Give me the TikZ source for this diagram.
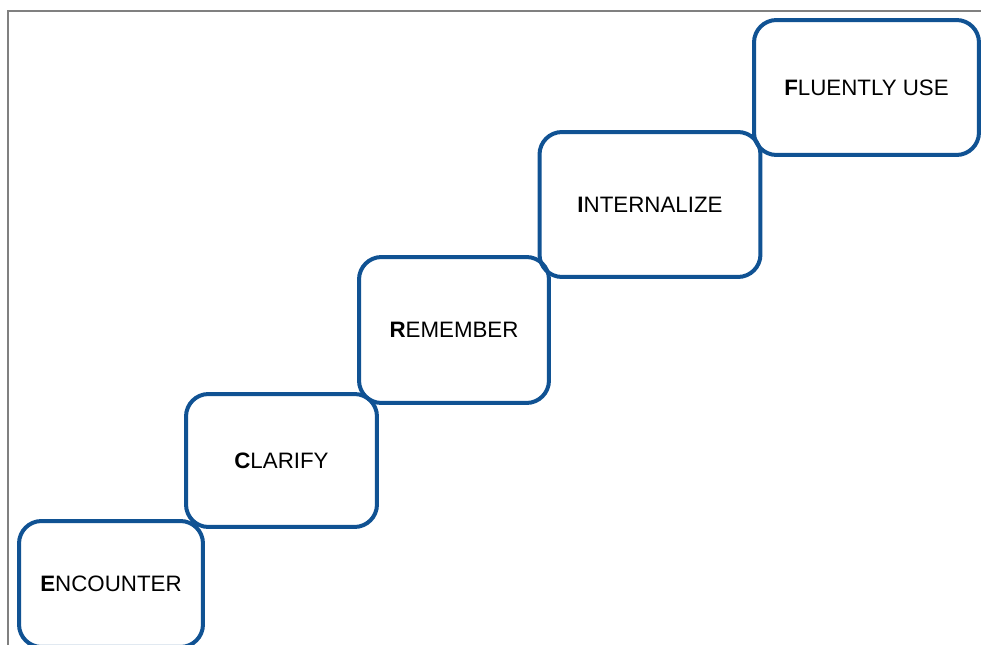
\documentclass[tikz,border=0pt]{standalone}
\usepackage{fontspec}
\setmainfont{Liberation Sans}
\definecolor{stepblue}{RGB}{16,82,147}
\begin{document}
\begin{tikzpicture}[x=0.02cm, y=-0.02cm,
  stepbox/.style={draw=stepblue, line width=0.08cm, rounded corners=0.45cm,
    inner sep=0pt, font=\fontsize{12.7}{15}\selectfont}]
  \useasboundingbox (0,0) rectangle (981,645);
  \clip (0,0) rectangle (981,645);

  % frame
  \draw[gray, line width=0.03cm] (8,645) -- (8,11) -- (981,11);

  % steps
  \node[stepbox, minimum width=3.68cm, minimum height=2.52cm] (encounter) at (111,584) {\textbf{E}NCOUNTER};
  \node[stepbox, minimum width=3.82cm, minimum height=2.66cm] (clarify) at (281.5,460.5) {\textbf{C}LARIFY};
  \node[stepbox, minimum width=3.80cm, minimum height=2.92cm] (remember) at (454,330) {\textbf{R}EMEMBER};
  \node[stepbox, minimum width=4.42cm, minimum height=2.90cm] (internalize) at (650,204.5) {\textbf{I}NTERNALIZE};
  \node[stepbox, minimum width=4.50cm, minimum height=2.70cm] (fluently) at (866.5,87.5) {\textbf{F}LUENTLY USE};
\end{tikzpicture}
\end{document}
